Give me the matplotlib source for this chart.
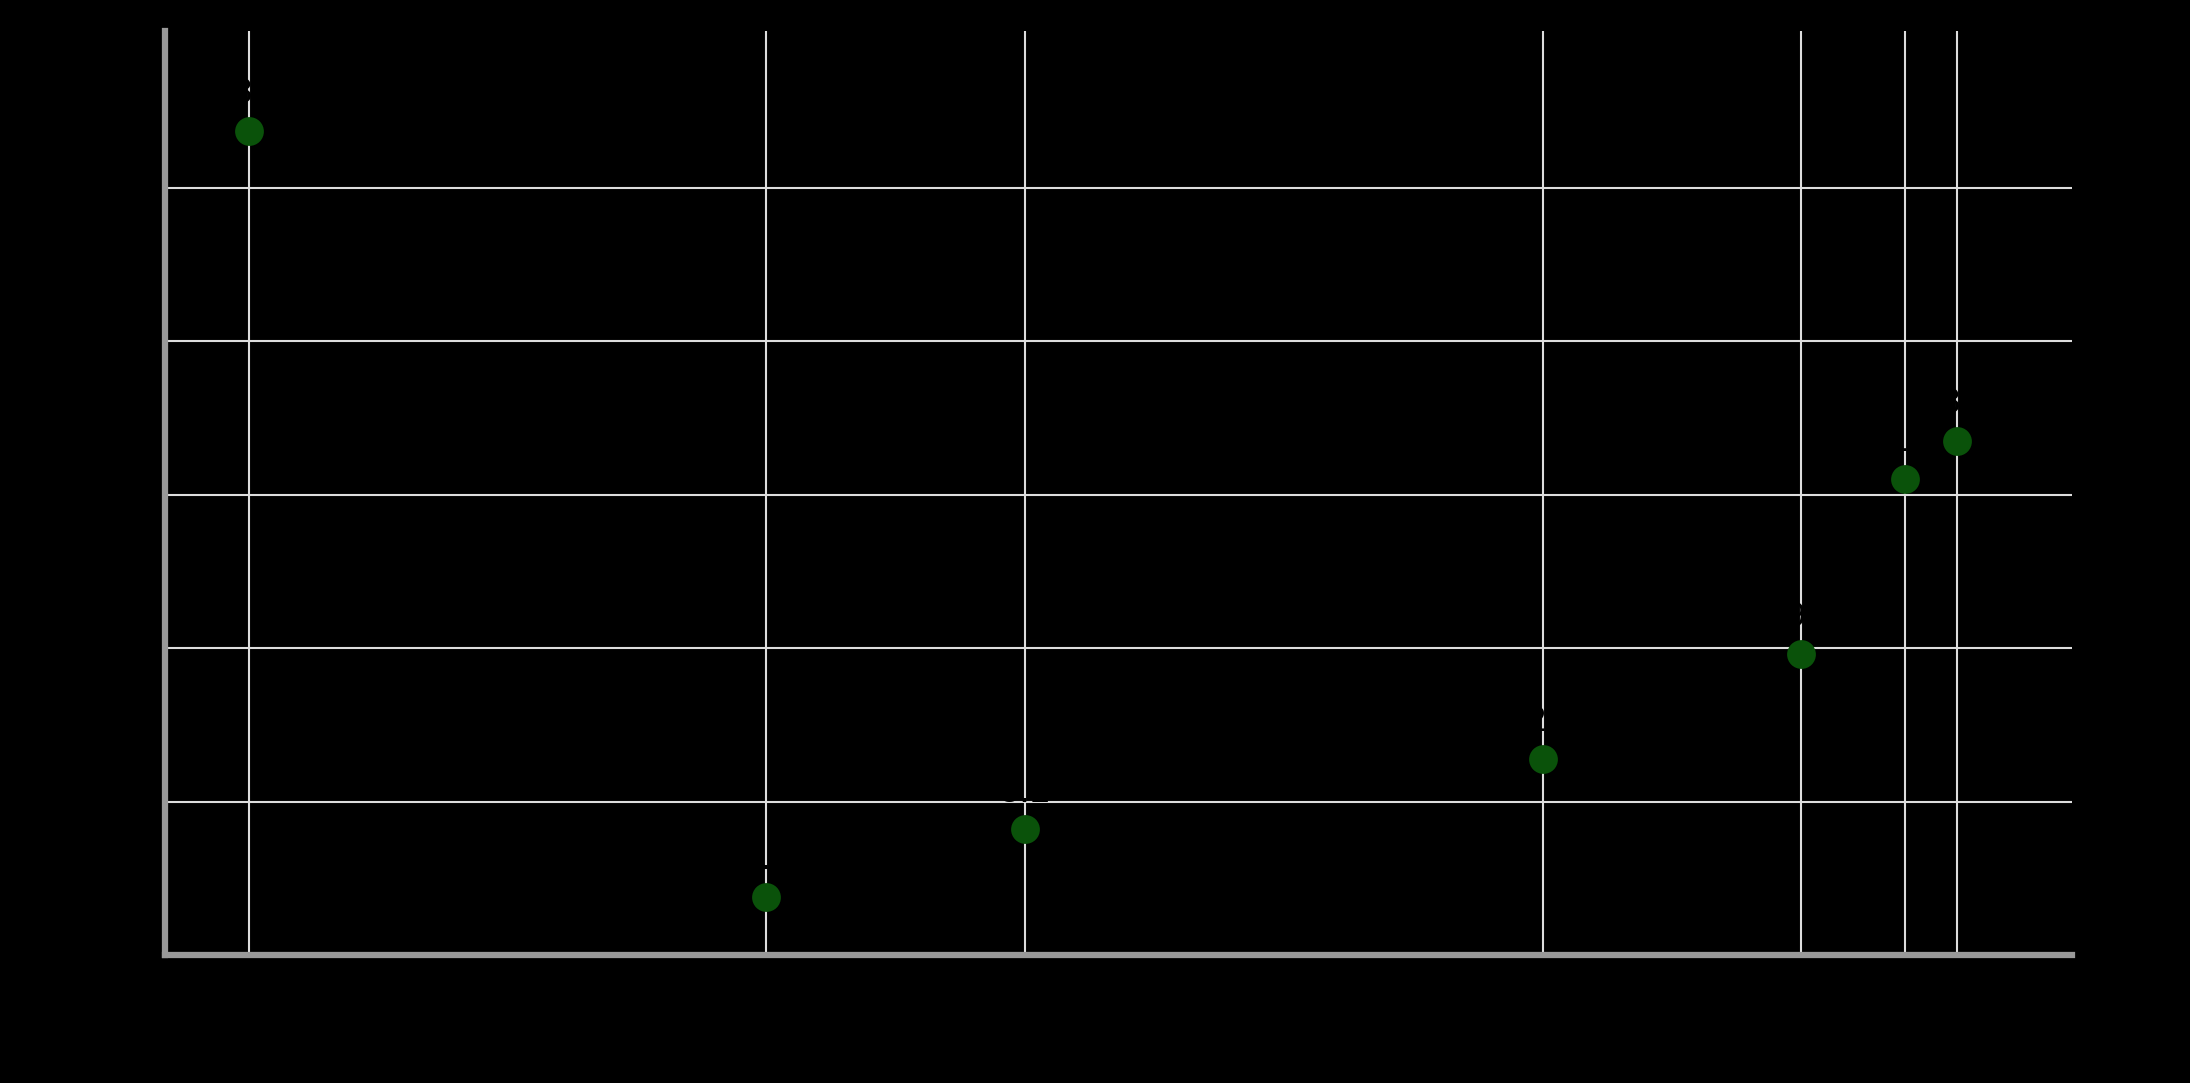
import matplotlib
matplotlib.use("Agg")
import matplotlib.pyplot as plt

# values (text in it is black on black)
years = [1990, 2000, 2005, 2015, 2020, 2022, 2023]
values = [53.7, 3.8, 8.2, 12.8, 19.6, 31.0, 33.5]
y_ticks = [0, 10, 20, 30, 40, 50]

BG = "black"
DOT = "#0a520a"
GRID = "#dddddd"
SPINE = "#999999"

fig = plt.figure(figsize=(21.9, 10.83), dpi=100, facecolor=BG)
ax = fig.add_axes([0.0753, 0.1180, 0.8708, 0.8534], facecolor=BG)

ax.scatter(years, values, s=430, color=DOT, zorder=3, linewidths=0)
for x, v in zip(years, values):
    ax.annotate(f"{v:.1f}", (x, v), xytext=(0, 20), textcoords="offset points",
                ha="center", va="baseline", fontsize=24, color="black", zorder=4)

ax.set_xlim(1988.38, 2025.23)
ax.set_ylim(0, 60.2)
ax.set_xticks(years)
ax.set_yticks(y_ticks)
ax.tick_params(colors="black", labelcolor="black", labelsize=13, length=0)

ax.set_axisbelow(True)
ax.grid(True, color=GRID, linewidth=1.5)

for side in ["top", "right"]:
    ax.spines[side].set_visible(False)
for side in ["left", "bottom"]:
    ax.spines[side].set_color(SPINE)
    ax.spines[side].set_linewidth(4.5)

fig.savefig("out.png", dpi=100, facecolor=BG)
